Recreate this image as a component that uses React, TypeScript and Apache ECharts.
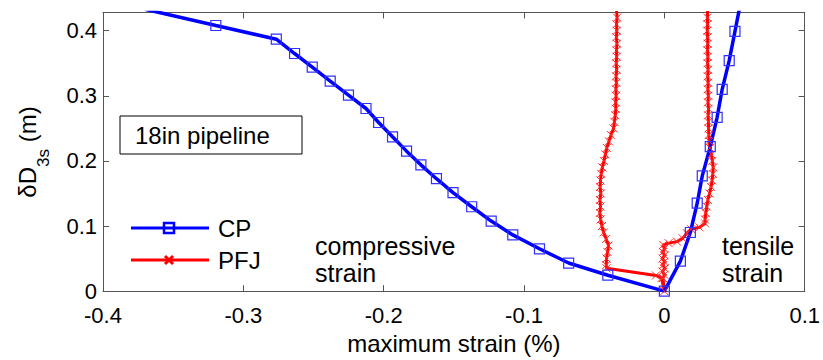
import React, { useEffect, useRef } from 'react';
import * as echarts from 'echarts';

const FONT = '"Liberation Sans", Arial, Helvetica, sans-serif';

// Axis settings
const X_MIN = -0.4;
const X_MAX = 0.1;
const X_STEP = 0.1;
const Y_MIN = 0;
const Y_MAX = 0.428;
const Y_STEP = 0.1;

// CP series (maximum strain %, deltaD3s m)
const CP_X = [-0.37, -0.3196, -0.2765, -0.2635, -0.2509, -0.2381, -0.2251, -0.2126, -0.2036, -0.1937, -0.1837, -0.1735, -0.1624, -0.1506, -0.1373, -0.1234, -0.108, -0.089, -0.0682, -0.0403, 0, 0.0114, 0.0185, 0.0234, 0.027, 0.0327, 0.0376, 0.0412, 0.0462, 0.0503, 0.0545];
const CP_Y = [0.433, 0.408, 0.387, 0.365, 0.344, 0.3226, 0.301, 0.2805, 0.259, 0.237, 0.215, 0.194, 0.1727, 0.1514, 0.1296, 0.1076, 0.0863, 0.065, 0.0431, 0.0244, 0, 0.046, 0.09, 0.135, 0.177, 0.222, 0.267, 0.31, 0.354, 0.399, 0.445];

// PFJ series
const PFJ_X = [
  -0.0338, -0.034, -0.0337, -0.0341, -0.0339, -0.0342, -0.0338, -0.0341, -0.034, -0.0343, -0.034, -0.0344, -0.0342, -0.0345, -0.0344, -0.0347, -0.0346, -0.035, -0.0356, -0.0362, -0.038, -0.0395, -0.041, -0.042, -0.043, -0.0442, -0.045, -0.0455, -0.0458, -0.0453, -0.0459, -0.0455, -0.046, -0.0454, -0.0445, -0.0432, -0.0415, -0.0398, -0.0405, -0.0412, -0.0414,
  -0.0412, -0.006, -0.002, 0,
  -0.001, 0.0, -0.0012, 0.0002, -0.0009, 0.0, -0.0013, 0.0001, -0.001, 0.0, -0.0008,
  0.003, 0.009, 0.013, 0.016, 0.019, 0.025, 0.029,
  0.029, 0.0295, 0.0302, 0.031, 0.0322, 0.0333, 0.034, 0.0345, 0.0348, 0.0342, 0.0335, 0.0325, 0.032, 0.0317, 0.0315, 0.0314, 0.0312, 0.0315, 0.0311, 0.0313, 0.031, 0.0312, 0.0309, 0.0311, 0.0308, 0.031, 0.0307, 0.0309, 0.0308, 0.0306, 0.0308, 0.0307, 0.0308, 0.0307,
];
const PFJ_Y = [
  0.44, 0.43, 0.42, 0.41, 0.4, 0.39, 0.38, 0.37, 0.36, 0.35, 0.34, 0.33, 0.32, 0.31, 0.3, 0.29, 0.28, 0.27, 0.26, 0.25, 0.24, 0.23, 0.22, 0.21, 0.2, 0.19, 0.18, 0.17, 0.16, 0.15, 0.14, 0.13, 0.12, 0.11, 0.1, 0.09, 0.08, 0.07, 0.06, 0.05, 0.04,
  0.035, 0.024, 0.02, 0,
  0.02, 0.025, 0.03, 0.035, 0.04, 0.045, 0.05, 0.055, 0.06, 0.065, 0.071,
  0.0737, 0.076, 0.081, 0.089, 0.095, 0.098, 0.104,
  0.11, 0.12, 0.13, 0.14, 0.15, 0.16, 0.17, 0.18, 0.19, 0.2, 0.21, 0.22, 0.23, 0.24, 0.25, 0.26, 0.27, 0.28, 0.29, 0.3, 0.31, 0.32, 0.33, 0.34, 0.35, 0.36, 0.37, 0.38, 0.39, 0.4, 0.41, 0.42, 0.43, 0.44,
];

const AXIS_COLOR = '#555';

export default function App() {
  const ref = useRef<HTMLDivElement>(null);
  useEffect(() => {
    const chart = echarts.init(ref.current as HTMLDivElement, null, { renderer: 'svg' });
    const cp = CP_X.map((x, i) => [x, CP_Y[i]]);
    const pfj = PFJ_X.map((x, i) => [x, PFJ_Y[i]]);
    const axisLine = { show: true, onZero: false, lineStyle: { color: AXIS_COLOR, width: 1 } };
    const axisTick = { show: true, inside: true, length: 6, lineStyle: { color: AXIS_COLOR, width: 1 } };
    chart.setOption({
      animation: false,
      textStyle: { fontFamily: FONT },
      grid: { left: 103, right: 16, top: 12.5, bottom: 66.7, containLabel: false },
      xAxis: [
        {
          type: 'value', min: X_MIN, max: X_MAX, interval: X_STEP, position: 'bottom',
          axisLine, axisTick, splitLine: { show: false },
          axisLabel: { color: '#000', fontSize: 22, lineHeight: 16, margin: 16, fontFamily: FONT },
          name: 'maximum strain (%)', nameLocation: 'middle', nameGap: 39,
          nameTextStyle: { color: '#000', fontSize: 24, fontFamily: FONT },
        },
        {
          type: 'value', min: X_MIN, max: X_MAX, interval: X_STEP, position: 'top',
          axisLine, axisTick, splitLine: { show: false }, axisLabel: { show: false },
        },
      ],
      yAxis: [
        {
          type: 'value', min: Y_MIN, max: Y_MAX, interval: Y_STEP, position: 'left',
          axisLine, axisTick, splitLine: { show: false },
          axisLabel: { color: '#000', fontSize: 22, lineHeight: 16, margin: 6, showMaxLabel: false, fontFamily: FONT },
        },
        {
          type: 'value', min: Y_MIN, max: Y_MAX, interval: Y_STEP, position: 'right',
          axisLine, axisTick, splitLine: { show: false }, axisLabel: { show: false },
        },
      ],
      series: [
        {
          type: 'line', name: 'PFJ', data: pfj, xAxisIndex: 0, yAxisIndex: 0,
          symbol: 'path://M0,0L10,10M0,10L10,0', symbolSize: 8,
          lineStyle: { color: '#ff0000', width: 3 },
          itemStyle: { color: '#ff0000', borderColor: '#ff2a2a', borderWidth: 1 },
          clip: true, silent: true,
        },
        {
          type: 'line', name: 'CP', data: cp, xAxisIndex: 0, yAxisIndex: 0,
          symbol: 'rect', symbolSize: 10,
          lineStyle: { color: '#0000ff', width: 3.5 },
          itemStyle: { color: 'rgba(0,0,0,0)', borderColor: '#3030ff', borderWidth: 1.2 },
          clip: true, silent: true,
        },
      ],
      graphic: [
        {
          type: 'text', x: 27, y: 152, rotation: Math.PI / 2, z: 10,
          style: {
            text: '{a|δD}{s|3s}{a| (m)}',
            align: 'center', verticalAlign: 'middle',
            rich: {
              a: { fontSize: 24, lineHeight: 24, verticalAlign: 'top', fill: '#000', fontFamily: FONT },
              s: { fontSize: 17, lineHeight: 17, padding: [20, 0, 0, 0], verticalAlign: 'top', fill: '#000', fontFamily: FONT },
            },
          },
        },
        {
          type: 'rect', z: 10, shape: { x: 120, y: 116, width: 182, height: 38 },
          style: { fill: '#fff', stroke: '#000', lineWidth: 1 },
        },
        {
          type: 'text', z: 11, x: 135, y: 135,
          style: { text: '18in pipeline', fontSize: 24, fill: '#000', verticalAlign: 'middle', fontFamily: FONT },
        },
        { type: 'line', z: 10, shape: { x1: 131, y1: 228, x2: 209, y2: 228 }, style: { stroke: '#0000ff', lineWidth: 3 } },
        { type: 'rect', z: 11, shape: { x: 164, y: 223, width: 10, height: 10 }, style: { fill: 'none', stroke: '#0000ff', lineWidth: 2.5 } },
        { type: 'text', z: 10, x: 218, y: 228, style: { text: 'CP', fontSize: 24, fill: '#000', verticalAlign: 'middle', fontFamily: FONT } },
        { type: 'line', z: 10, shape: { x1: 131, y1: 260, x2: 209, y2: 260 }, style: { stroke: '#ff0000', lineWidth: 3 } },
        { type: 'line', z: 11, shape: { x1: 165, y1: 256, x2: 173, y2: 264 }, style: { stroke: '#ff0000', lineWidth: 3 } },
        { type: 'line', z: 11, shape: { x1: 165, y1: 264, x2: 173, y2: 256 }, style: { stroke: '#ff0000', lineWidth: 3 } },
        { type: 'text', z: 10, x: 218, y: 260, style: { text: 'PFJ', fontSize: 24, fill: '#000', verticalAlign: 'middle', fontFamily: FONT } },
        {
          type: 'text', z: 10, x: 315, y: 232.5,
          style: { text: 'compressive\nstrain', fontSize: 25, lineHeight: 27, fill: '#000', verticalAlign: 'top', fontFamily: FONT },
        },
        {
          type: 'text', z: 10, x: 722, y: 232.5,
          style: { text: 'tensile\nstrain', fontSize: 25, lineHeight: 27, fill: '#000', verticalAlign: 'top', fontFamily: FONT },
        },
      ],
    });
    return () => chart.dispose();
  }, []);
  return (
    <div
      ref={ref}
      style={{ position: 'fixed', left: 0, top: 0, width: 823, height: 360, background: '#fff' }}
    />
  );
}
